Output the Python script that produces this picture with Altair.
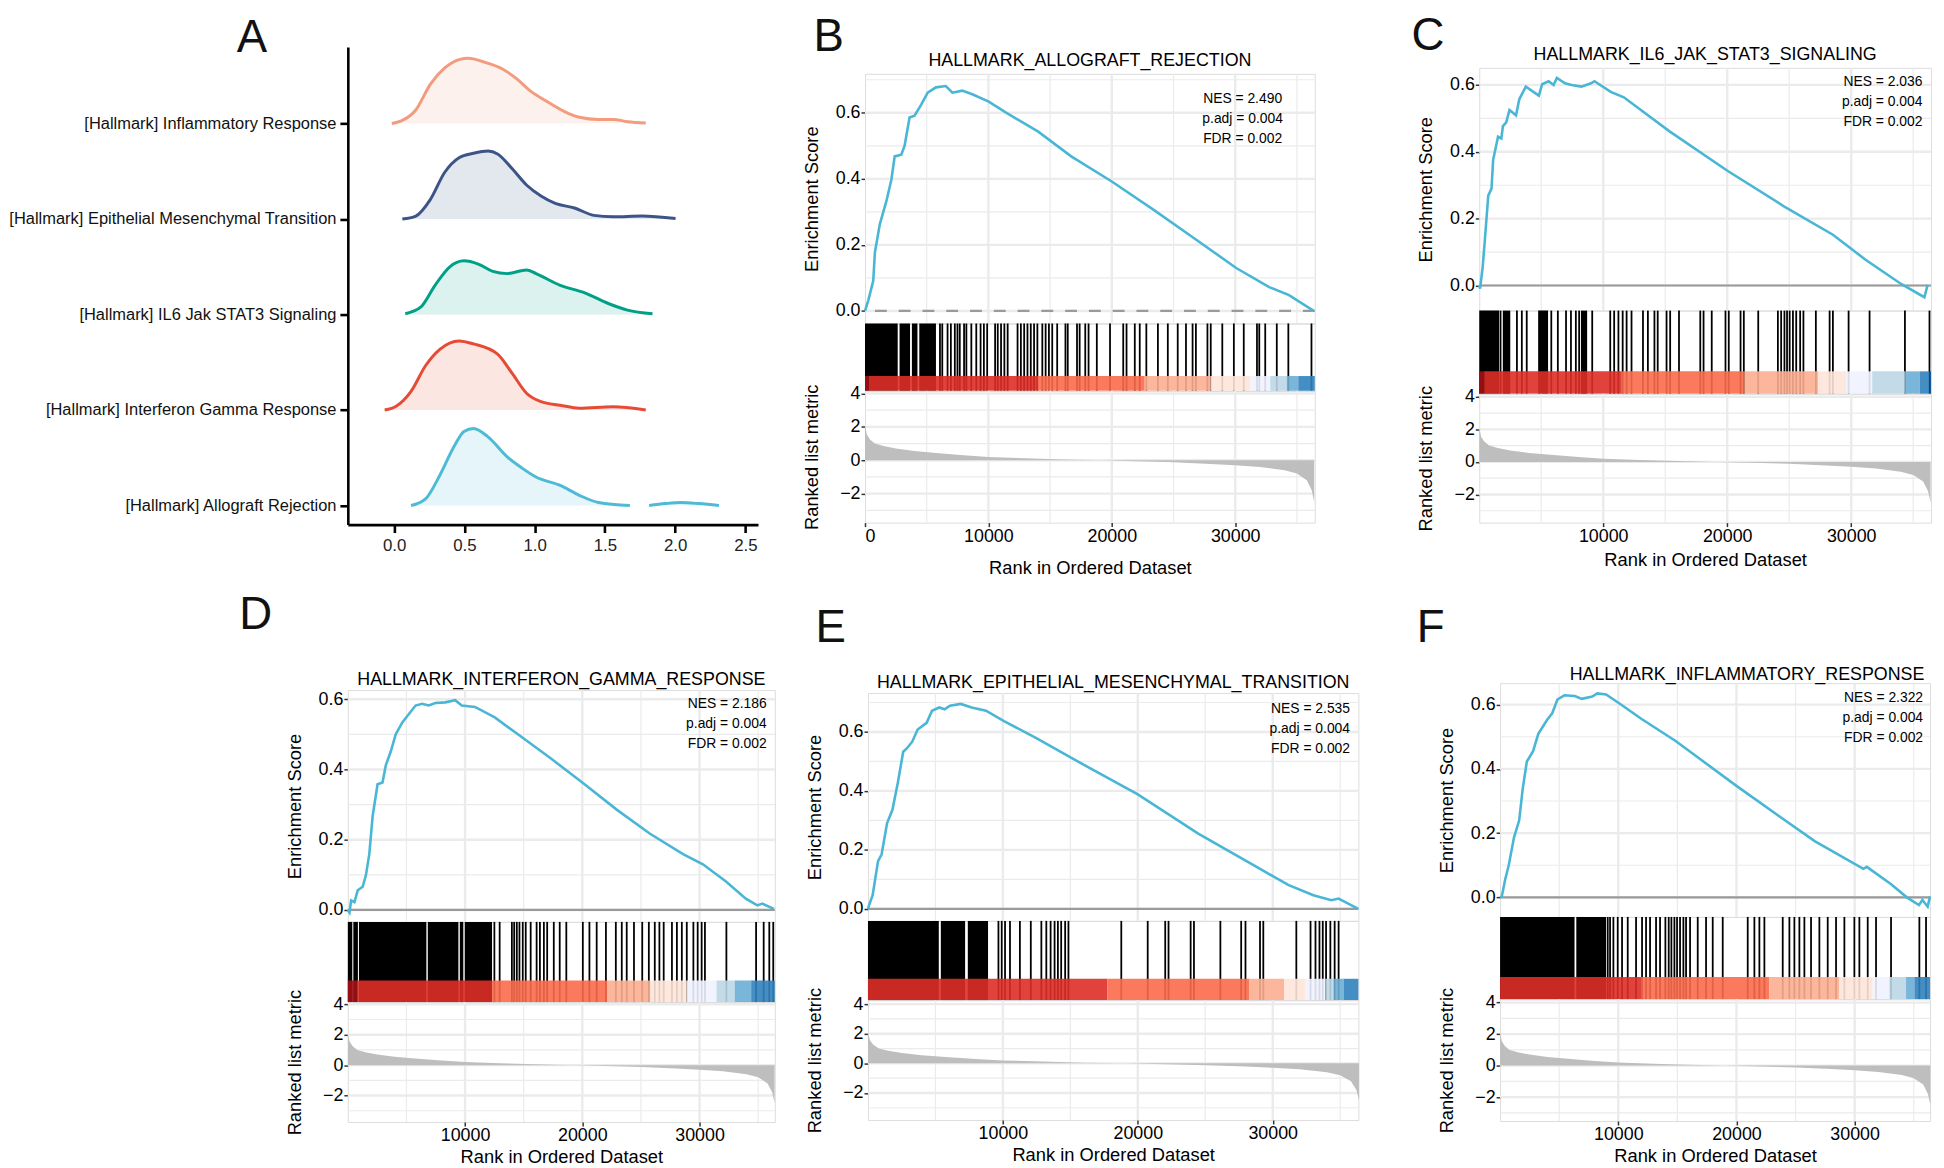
import altair as alt
import pandas as pd

FONT = "Liberation Sans"
GRID = "#EBEBEB"
ES_COLOR = "#49B6D6"

# ---------------- Panel A: ridgeline densities ----------------
ridge_names = [
    "[Hallmark] Allograft Rejection",
    "[Hallmark] Interferon Gamma Response",
    "[Hallmark] IL6 Jak STAT3 Signaling",
    "[Hallmark] Epithelial Mesenchymal Transition",
    "[Hallmark] Inflammatory Response",
]
ridge_colors = ["#4DBBD5", "#E64B35", "#00A087", "#3C5488", "#F39B7F"]

allo_x1 = [0.12, 0.223, 0.325, 0.428, 0.497, 0.565, 0.668, 0.805, 0.908, 1.01, 1.182, 1.318, 1.455, 1.678]
allo_h1 = [0, 0.069, 0.317, 0.623, 0.776, 0.807, 0.719, 0.509, 0.394, 0.298, 0.21, 0.107, 0.031, 0]
allo_x2 = [1.815, 1.93, 2.038, 2.17, 2.312]
allo_h2 = [0, 0.02, 0.031, 0.02, 0]
ifn_x = [-0.068, 0.017, 0.12, 0.223, 0.325, 0.462, 0.565, 0.736, 0.839, 0.942, 1.045, 1.182, 1.318, 1.558, 1.791]
ifn_h = [0, 0.042, 0.195, 0.463, 0.635, 0.723, 0.692, 0.585, 0.386, 0.176, 0.088, 0.05, 0.019, 0.034, 0]
il6_x = [0.079, 0.188, 0.291, 0.394, 0.497, 0.599, 0.702, 0.805, 0.942, 1.01, 1.182, 1.353, 1.524, 1.661, 1.839]
il6_h = [0.008, 0.076, 0.306, 0.497, 0.562, 0.528, 0.451, 0.428, 0.467, 0.428, 0.306, 0.229, 0.115, 0.046, 0.008]
emt_x = [0.058, 0.154, 0.257, 0.36, 0.462, 0.565, 0.668, 0.736, 0.839, 0.942, 1.045, 1.147, 1.284, 1.421, 1.558, 1.764, 2.003]
emt_h = [0, 0.031, 0.203, 0.489, 0.642, 0.688, 0.711, 0.681, 0.528, 0.356, 0.241, 0.164, 0.115, 0.038, 0.023, 0.031, 0.004]
inf_x = [-0.017, 0.051, 0.154, 0.257, 0.36, 0.462, 0.531, 0.634, 0.771, 0.873, 0.976, 1.079, 1.216, 1.318, 1.455, 1.558, 1.661, 1.791]
inf_h = [0, 0.027, 0.141, 0.409, 0.581, 0.669, 0.684, 0.646, 0.57, 0.467, 0.333, 0.237, 0.122, 0.065, 0.042, 0.042, 0.019, 0.004]
ridge_ticks = [0, 0.5, 1.0, 1.5, 2.0, 2.5]

# ---------------- GSEA panels ----------------
x_major = [10000, 20000, 30000]
x_minor = [5000, 15000, 25000, 35000]
es_major = [0.0, 0.2, 0.4, 0.6]
es_minor = [0.1, 0.3, 0.5, 0.7]
rk_major = [-2, 0, 2, 4]
rk_minor = [-3, -1, 1, 3]

metric_rank = [0, 150, 400, 800, 1500, 2500, 4000, 6000, 8000, 10000, 13000, 16000, 19000, 22000,
               25000, 28000, 30000, 32000, 34000, 35000, 35800, 36200, 36400]
metric_val = [2.1, 1.55, 1.25, 1.0, 0.85, 0.7, 0.55, 0.42, 0.3, 0.2, 0.12, 0.05, 0.0, -0.06,
              -0.12, -0.22, -0.3, -0.4, -0.6, -0.8, -1.2, -1.8, -2.5]

bar_palette = ["#A50F15", "#DE2D26", "#FB6A4A", "#FCAE91", "#FEE5D9",
               "#EFF3FF", "#BDD7E7", "#6BAED6", "#3182BD", "#08519C"]

# B: allograft rejection
es_rank_b = [0, 267, 668, 802, 1203, 1738, 2139, 2406, 2941, 3209, 3610, 4011, 4545, 5080, 5749, 6551, 7086,
             7888, 8690, 10027, 11364, 14037, 16711, 20000, 23396, 26872, 30080, 32754, 34358, 36364]
es_b = [0.0, 0.032, 0.091, 0.177, 0.263, 0.333, 0.398, 0.468, 0.473, 0.5, 0.586, 0.591, 0.624, 0.661, 0.677,
        0.681, 0.661, 0.667, 0.656, 0.634, 0.602, 0.543, 0.468, 0.392, 0.306, 0.215, 0.13, 0.072, 0.048, 0.0]
hit_blocks_b = [(0, 2650), (2800, 3650), (3800, 4250), (4400, 5750)]
hit_lines_b = [6075, 6262, 6690, 6958, 7279, 7493, 7680, 8028, 8215, 8617, 9018, 9366, 9634, 9901, 10543, 10758,
               11025, 11293, 11560, 12363, 12631, 12898, 13166, 13434, 13701, 13969, 14370, 14638, 14905, 15173,
               15574, 16243, 16430, 17180, 17394, 17849, 18117, 18786, 19856, 20926, 21194, 21863, 22264, 22799,
               23736, 24539, 25342, 26011, 26546, 26814, 27750, 28018, 28954, 29891, 30694, 31764, 31951, 32433,
               33370, 34306, 36180]
bar_edges_b = [0, 321, 13969, 22666, 28018, 31229, 32835, 34173, 35110, 36450]

# C: IL6 JAK STAT3
es_rank_c = [0, 66, 277, 461, 725, 988, 1120, 1515, 1779, 1910, 2174, 2437, 2964, 3228, 3755, 4809, 5072, 5599,
             5995, 6258, 6917, 7444, 8235, 9025, 9289, 10606, 11660, 15349, 19987, 24572, 28525, 31160, 34058,
             35903, 36166]
es_c = [0.0, -0.009, 0.056, 0.141, 0.269, 0.29, 0.376, 0.445, 0.44, 0.477, 0.488, 0.525, 0.509, 0.557, 0.595,
        0.568, 0.602, 0.611, 0.6, 0.621, 0.605, 0.6, 0.595, 0.605, 0.611, 0.579, 0.563, 0.461, 0.344, 0.237,
        0.152, 0.077, 0.004, -0.035, 0.002]
hit_blocks_c = [(0, 1600), (1900, 2500), (4750, 5550), (8200, 8700)]
hit_lines_c = [1717, 3037, 3433, 3829, 5810, 6338, 6998, 7395, 7791, 8055, 9111, 10564, 10881, 11224, 11567,
               11885, 12281, 13205, 13601, 14129, 14393, 15106, 15397, 16110, 17827, 18091, 18751, 19860, 20124,
               21075, 21339, 22501, 24086, 24350, 24614, 24825, 25036, 25300, 25565, 25882, 26146, 27149, 28259,
               28523, 29790, 31481, 34333, 36314]
bar_edges_c = [0, 396, 11488, 21392, 27334, 29579, 31692, 34333, 35522, 36314, 36440]

# D: interferon gamma response
es_rank_d = [0, 141, 282, 563, 845, 1268, 1549, 1831, 2113, 2535, 2958, 3239, 3662, 4085, 4648, 5211, 5775,
             6338, 6901, 7465, 8310, 9155, 9718, 10845, 12535, 14507, 17324, 20000, 22958, 25775, 28592, 30282,
             32254, 33944, 34930, 35352, 36338]
es_d = [0.0, -0.007, 0.027, 0.022, 0.056, 0.066, 0.1, 0.159, 0.266, 0.358, 0.363, 0.412, 0.451, 0.5, 0.534,
        0.558, 0.582, 0.587, 0.582, 0.589, 0.591, 0.597, 0.582, 0.578, 0.548, 0.5, 0.431, 0.363, 0.285, 0.217,
        0.159, 0.13, 0.081, 0.032, 0.013, 0.018, 0.003]
hit_blocks_d = [(0, 380), (470, 860), (950, 6700), (6820, 9430), (9550, 9850), (9970, 12300)]
hit_lines_d = [12499, 12949, 13991, 14188, 14413, 14638, 14920, 15173, 15595, 16102, 16383, 16721, 17003, 17566,
               18072, 18635, 20043, 20606, 21225, 22013, 22858, 23365, 23787, 24406, 25110, 25673, 26180, 26574,
               26940, 27644, 28066, 28488, 28910, 29473, 29839, 30177, 30458, 32288, 34821, 35468, 35947, 36285]
bar_edges_d = [0, 760, 12300, 22154, 25814, 28910, 31444, 32992, 34400, 36420]

# E: epithelial mesenchymal transition
es_rank_e = [0, 80, 347, 747, 1013, 1413, 1813, 2213, 2613, 2880, 3280, 3680, 4347, 4747, 5280, 5680, 6080,
             6880, 7680, 8747, 10080, 12480, 15147, 20000, 24480, 28480, 31147, 33013, 34347, 34880, 36347]
es_e = [0.0, 0.012, 0.046, 0.162, 0.185, 0.29, 0.336, 0.428, 0.533, 0.544, 0.567, 0.608, 0.631, 0.672, 0.683,
        0.677, 0.689, 0.695, 0.683, 0.672, 0.637, 0.579, 0.51, 0.388, 0.255, 0.151, 0.081, 0.046, 0.029, 0.035,
        0.0]
hit_blocks_e = [(0, 5250), (5400, 7200), (7400, 8900)]
hit_lines_e = [9670, 9914, 10159, 10526, 11261, 12069, 12852, 13219, 13537, 13831, 14076, 14321, 14615, 14859,
               18776, 20734, 22032, 22277, 23917, 24162, 26120, 27662, 27981, 29058, 29302, 31750, 32803, 33170,
               33464, 33709, 33954, 34272, 34590, 34884]
bar_edges_e = [0, 17748, 28274, 30845, 32436, 33905, 34517, 35251, 36350]

# F: inflammatory response
es_rank_f = [0, 147, 441, 735, 1176, 1618, 1912, 2265, 2794, 3235, 3971, 4412, 4853, 5441, 6324, 6912, 7794,
             8235, 8971, 10441, 11912, 14853, 20000, 23676, 26618, 30735, 31029, 33088, 34412, 35441, 35735,
             36176, 36382]
es_f = [0.0, 0.003, 0.057, 0.1, 0.186, 0.24, 0.337, 0.423, 0.455, 0.509, 0.552, 0.573, 0.616, 0.629, 0.627,
        0.618, 0.625, 0.635, 0.632, 0.595, 0.557, 0.487, 0.347, 0.251, 0.175, 0.089, 0.095, 0.041, 0.0, -0.024,
        -0.008, -0.029, 0.003]
hit_blocks_f = [(0, 6300), (6450, 8970)]
hit_lines_f = [9109, 9306, 9588, 9955, 10321, 10801, 11506, 12013, 12352, 12690, 13198, 13536, 13987, 14269,
               14495, 14749, 14974, 15228, 15510, 15736, 16074, 16723, 17428, 17992, 18838, 20953, 21517, 21940,
               22363, 23914, 24478, 24901, 25324, 25747, 26311, 27016, 27721, 28426, 29131, 29977, 30400, 31105,
               31810, 33079, 35476, 36040]
bar_edges_f = [0, 11929, 22786, 28708, 31528, 32938, 34348, 35053, 36380]

stats = {
    "B": ("2.490", "0.004", "0.002"),
    "C": ("2.036", "0.004", "0.002"),
    "D": ("2.186", "0.004", "0.002"),
    "E": ("2.535", "0.004", "0.002"),
    "F": ("2.322", "0.004", "0.002"),
}


def spacer(w, h):
    return alt.Chart(pd.DataFrame({"v": [0]})).mark_rule(opacity=0).encode(x=alt.value(0)).properties(
        width=w, height=h, view=alt.ViewBackground(stroke="transparent"))


def letter_title(t, dx, offset):
    return alt.TitleParams(t, anchor="start", frame="group", fontSize=46, fontWeight="normal", font=FONT,
                           color="#111", dx=dx, offset=offset)


def axis_common(**kw):
    base = dict(grid=False, domain=False, tickColor="#333", tickWidth=1.5, tickSize=4,
                labelFontSize=18, labelColor="black", labelFont=FONT, labelPadding=1,
                titleFontSize=18.5, titleFontWeight="normal", titleColor="black", titleFont=FONT)
    base.update(kw)
    return alt.Axis(**base)


def gsea_panel(p):
    xmax = p["xmax"]
    xs = alt.Scale(domain=[0, xmax], nice=False, zero=False)
    ys = alt.Scale(domain=p["es_dom"], nice=False, zero=False)
    rs = alt.Scale(domain=p["rk_dom"], nice=False, zero=False)
    hs = alt.Scale(domain=[0, 1], nice=False, zero=False)
    lo, hi = p["es_dom"]

    es_axis = axis_common(values=es_major, format=".1f", title="Enrichment Score", titleX=-44)
    noX = alt.X("v:Q", scale=xs, axis=None)

    gxM = alt.Chart(pd.DataFrame({"v": x_major})).mark_rule(color=GRID, strokeWidth=2.4).encode(x=noX)
    gxm = alt.Chart(pd.DataFrame({"v": x_minor})).mark_rule(color=GRID, strokeWidth=1.2).encode(x=noX)
    gyM = alt.Chart(pd.DataFrame({"v": [v for v in es_major if lo < v < hi]})).mark_rule(
        color=GRID, strokeWidth=2.4).encode(y=alt.Y("v:Q", scale=ys, axis=es_axis))
    gym = alt.Chart(pd.DataFrame({"v": [v for v in es_minor if lo < v < hi]})).mark_rule(
        color=GRID, strokeWidth=1.2).encode(y=alt.Y("v:Q", scale=ys, axis=es_axis))
    zkw = dict(color="#9A9A9A", strokeWidth=2.2)
    if p["dash"]:
        zkw["strokeDash"] = [12, 12]
    zero = alt.Chart(pd.DataFrame({"v": [0.0]})).mark_rule(**zkw).encode(
        y=alt.Y("v:Q", scale=ys, axis=es_axis))
    line = alt.Chart(pd.DataFrame({"r": p["es_rank"], "es": p["es"]})).mark_line(
        color=ES_COLOR, strokeWidth=2.6).encode(
        x=alt.X("r:Q", scale=xs, axis=None), y=alt.Y("es:Q", scale=ys, axis=es_axis))
    nes, padj, fdr = p["stats"]
    txt = alt.Chart(pd.DataFrame({"v": [0]})).mark_text(
        text=[f"NES = {nes}", f"p.adj = {padj}", f"FDR = {fdr}"], lineHeight=20, align=p["txt_align"],
        baseline="top", fontSize=14, font=FONT, color="black").encode(
        x=alt.X(datum=p["txt_x"], scale=xs, axis=None), y=alt.Y(datum=p["txt_y"], scale=ys, axis=es_axis))
    es_chart = alt.layer(gxm, gxM, gym, gyM, zero, line, txt).properties(
        width=p["w"], height=p["h"][0],
        title=alt.TitleParams(p["title"], fontSize=18, fontWeight="normal", font=FONT, color="black",
                              anchor=p["title_anchor"], offset=p["title_off"], dx=p["title_dx"]))

    # hits + colour bar
    bf = p["bar_frac"]
    blk = pd.DataFrame({"s": [b[0] for b in p["blocks"]], "e": [b[1] for b in p["blocks"]]})
    hx = alt.X("s:Q", scale=xs, axis=None)
    blocks = alt.Chart(blk).mark_rect(color="black").encode(
        x=hx, x2="e:Q", y=alt.Y(datum=0, scale=hs, axis=None), y2=alt.datum(1))
    rules = alt.Chart(pd.DataFrame({"s": p["lines"]})).mark_rule(color="black", strokeWidth=1.8).encode(
        x=hx, y=alt.Y(datum=0, scale=hs, axis=None), y2=alt.datum(1))
    edges = p["edges"]
    bar_df = pd.DataFrame({"s": edges[:-1], "e": edges[1:], "c": p["cols"]})
    bar = alt.Chart(bar_df).mark_rect(opacity=0.9).encode(
        x=hx, x2="e:Q", y=alt.Y(datum=0, scale=hs, axis=None), y2=alt.datum(bf),
        color=alt.Color("c:N", scale=None))
    hit_chart = alt.layer(blocks, rules, bar).properties(width=p["w"], height=p["h"][1])

    # ranked list metric
    rk_x_axis = axis_common(values=p["xticks"], format="d", title="Rank in Ordered Dataset",
                            titlePadding=p["tpad"])
    rk_y_axis = axis_common(values=rk_major, format="d", title="Ranked list metric", titleX=-44)
    rgxM = alt.Chart(pd.DataFrame({"v": x_major})).mark_rule(color=GRID, strokeWidth=2.4).encode(
        x=alt.X("v:Q", scale=xs, axis=rk_x_axis))
    rgxm = alt.Chart(pd.DataFrame({"v": x_minor})).mark_rule(color=GRID, strokeWidth=1.2).encode(
        x=alt.X("v:Q", scale=xs, axis=rk_x_axis))
    rgyM = alt.Chart(pd.DataFrame({"v": rk_major})).mark_rule(color=GRID, strokeWidth=2.4).encode(
        y=alt.Y("v:Q", scale=rs, axis=rk_y_axis))
    rgym = alt.Chart(pd.DataFrame({"v": rk_minor})).mark_rule(color=GRID, strokeWidth=1.2).encode(
        y=alt.Y("v:Q", scale=rs, axis=rk_y_axis))
    area = alt.Chart(pd.DataFrame({"r": metric_rank, "m": metric_val})).mark_area(color="#BEBEBE").encode(
        x=alt.X("r:Q", scale=xs, axis=rk_x_axis), y=alt.Y("m:Q", scale=rs, axis=rk_y_axis), y2=alt.datum(0))
    rank_chart = alt.layer(rgxm, rgxM, rgym, rgyM, area).properties(width=p["w"], height=p["h"][2])

    return alt.vconcat(spacer(p["w"], p["top_gap"]), es_chart, hit_chart, rank_chart, spacing=0,
                       bounds="flush",
                       title=letter_title(p["letter"], p["letter_dx"], p["letter_off"]))


panels = {
    "B": dict(letter="B", title="HALLMARK_ALLOGRAFT_REJECTION", es_rank=es_rank_b, es=es_b,
              es_dom=[-0.038, 0.718], rk_dom=[-3.74, 4.16], xmax=36450, blocks=hit_blocks_b, lines=hit_lines_b,
              edges=bar_edges_b, cols=bar_palette[:9], bar_frac=0.22, stats=stats["B"], txt_x=30600,
              txt_y=0.662, txt_align="center", xticks=[0] + x_major, dash=True, w=454, h=[252, 68, 133],
              title_anchor="middle", title_off=2.5, title_dx=0, letter_dx=-52, letter_off=-14.5, top_gap=27,
              tpad=13),
    "C": dict(letter="C", title="HALLMARK_IL6_JAK_STAT3_SIGNALING", es_rank=es_rank_c, es=es_c,
              es_dom=[-0.075, 0.651], rk_dom=[-3.73, 4.18], xmax=36440, blocks=hit_blocks_c, lines=hit_lines_c,
              edges=bar_edges_c, cols=bar_palette, bar_frac=0.27, stats=stats["C"], txt_x=35750,
              txt_y=0.628, txt_align="right", xticks=x_major, dash=False, w=456, h=[245, 84, 130],
              title_anchor="middle", title_off=2.5, title_dx=0, letter_dx=-68.5, letter_off=-14.5, top_gap=21,
              tpad=5),
    "D": dict(letter="D", title="HALLMARK_INTERFERON_GAMMA_RESPONSE", es_rank=es_rank_d, es=es_d,
              es_dom=[-0.034, 0.626], rk_dom=[-3.74, 4.14], xmax=36420, blocks=hit_blocks_d, lines=hit_lines_d,
              edges=bar_edges_d, cols=bar_palette[:9], bar_frac=0.27, stats=stats["D"], txt_x=35720,
              txt_y=0.606, txt_align="right", xticks=x_major, dash=False, w=431, h=[234, 81, 121],
              title_anchor="middle", title_off=0, title_dx=0, letter_dx=-109.5, letter_off=17.5, top_gap=34,
              tpad=3),
    "E": dict(letter="E", title="HALLMARK_EPITHELIAL_MESENCHYMAL_TRANSITION", es_rank=es_rank_e, es=es_e,
              es_dom=[-0.041, 0.732], rk_dom=[-3.83, 4.27], xmax=36350, blocks=hit_blocks_e, lines=hit_lines_e,
              edges=bar_edges_e, cols=bar_palette[1:9], bar_frac=0.27, stats=stats["E"], txt_x=35730,
              txt_y=0.70, txt_align="right", xticks=x_major, dash=False, w=495, h=[230, 80, 121],
              title_anchor="middle", title_off=0, title_dx=0, letter_dx=-53, letter_off=4.5, top_gap=37,
              tpad=3),
    "F": dict(letter="F", title="HALLMARK_INFLAMMATORY_RESPONSE", es_rank=es_rank_f, es=es_f,
              es_dom=[-0.061, 0.667], rk_dom=[-3.52, 4.22], xmax=36380, blocks=hit_blocks_f, lines=hit_lines_f,
              edges=bar_edges_f, cols=bar_palette[1:9], bar_frac=0.27, stats=stats["F"], txt_x=35790,
              txt_y=0.641, txt_align="right", xticks=x_major, dash=False, w=434, h=[236, 83, 123],
              title_anchor="end", title_off=-1.7, title_dx=-11, letter_dx=-84, letter_off=4.5, top_gap=27,
              tpad=3),
}

# ---------------- build panel A ----------------
ridge_series = [
    [(allo_x1, allo_h1), (allo_x2, allo_h2)],
    [(ifn_x, ifn_h)],
    [(il6_x, il6_h)],
    [(emt_x, emt_h)],
    [(inf_x, inf_h)],
]
rows = []
for idx, segs in enumerate(ridge_series):
    for s, (xv, hv) in enumerate(segs):
        for x, h in zip(xv, hv):
            rows.append({"name": ridge_names[idx], "idx": idx, "seg": f"{idx}-{s}", "x": x, "top": idx + h})
ridge_df = pd.DataFrame(rows)

xA = alt.Scale(domain=[-0.33, 2.59], nice=False, zero=False)
yA = alt.Scale(domain=[-0.2, 4.8], nice=False, zero=False)
label_expr = "[" + ",".join(f"'{n}'" for n in ridge_names) + "][datum.value]"
axA_y = alt.Axis(values=[0, 1, 2, 3, 4], labelExpr=label_expr, title=None, grid=False, domainColor="black",
                 domainWidth=2.6, tickColor="black", tickWidth=2.6, tickSize=8, labelFont=FONT,
                 labelFontSize=16.6, labelColor="#111", labelLimit=0, labelPadding=4)
axA_x = alt.Axis(values=ridge_ticks, format=".1f", title=None, grid=False, domainColor="black",
                 domainWidth=2.6, tickColor="black", tickWidth=2.6, tickSize=8, labelFont=FONT,
                 labelFontSize=17, labelColor="#222", labelPadding=5)
colA = alt.Color("name:N", scale=alt.Scale(domain=ridge_names, range=ridge_colors), legend=None)
areaA = alt.Chart(ridge_df).mark_area(opacity=0.14, interpolate="monotone").encode(
    x=alt.X("x:Q", scale=xA, axis=axA_x), y=alt.Y("top:Q", scale=yA, axis=axA_y), y2="idx:Q",
    color=colA, detail="seg:N")
lineA = alt.Chart(ridge_df).mark_line(strokeWidth=3, interpolate="monotone").encode(
    x=alt.X("x:Q", scale=xA, axis=axA_x), y=alt.Y("top:Q", scale=yA, axis=axA_y), color=colA,
    detail="seg:N")
chartA = alt.layer(areaA, lineA).properties(
    width=414, height=482, view=alt.ViewBackground(stroke="transparent"),
    title=letter_title("A", -112, -14.5))

top_row = alt.hconcat(chartA, spacer(41.5, 1), gsea_panel(panels["B"]), spacer(90, 1),
                      gsea_panel(panels["C"]), spacing=0)
bottom_row = alt.hconcat(gsea_panel(panels["D"]), spacer(23, 1), gsea_panel(panels["E"]),
                         spacer(50.7, 1), gsea_panel(panels["F"]), spacing=0)

chart = alt.vconcat(top_row, bottom_row, spacing=15).properties(padding=0).configure_view(
    stroke="black", strokeWidth=2.6).configure(font=FONT)

chart.save("out.html", embed_options={"renderer": "svg", "actions": False})
